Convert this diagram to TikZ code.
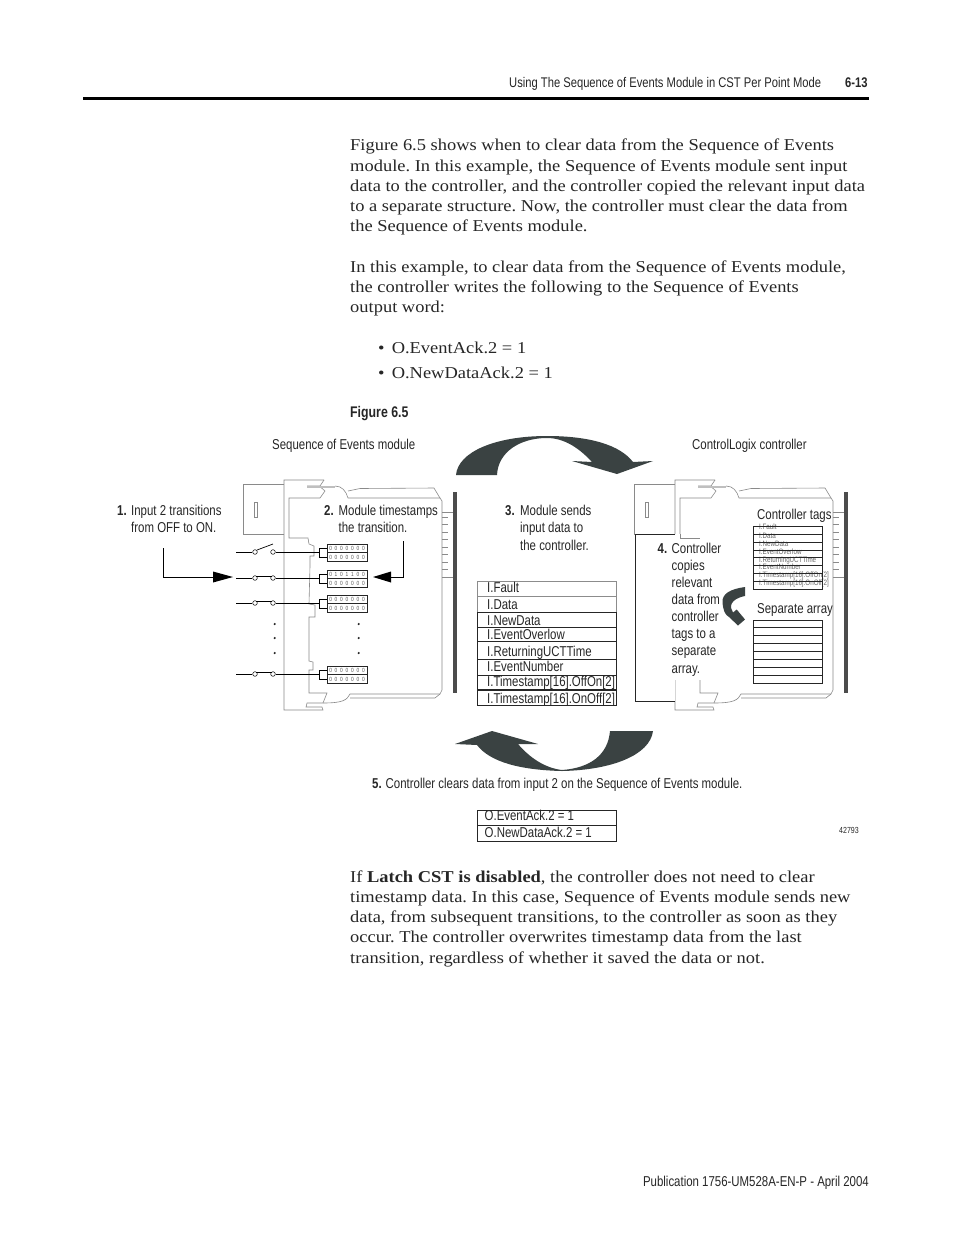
\documentclass[tikz,border=0pt]{standalone}
\usepackage{fontspec}
\setmainfont[FakeStretch=1.112]{Liberation Serif}
\newfontfamily\cond[FakeStretch=0.8]{Liberation Sans}
\definecolor{modgrey}{HTML}{8A8A8A}
\definecolor{arrowdark}{HTML}{3A4242}
\newcommand\condsize[1]{\cond\fontsize{#1}{#1}\selectfont}
\frenchspacing
\tikzset{
 body/.style={anchor=base west,inner sep=0pt,font=\fontsize{16.6}{16.6}\selectfont\frenchspacing,text=black!85},
 lab/.style={anchor=base west,inner sep=0pt,font=\condsize{14.3},text=black!85},
 tiny tag/.style={anchor=base west,inner sep=0pt,font=\condsize{7.8},text=black!60},
 modline/.style={draw=modgrey,line width=.6pt},
 lightbar/.style={draw=black!25,line width=1.2pt},
 blackline/.style={draw=black!85,line width=.8pt},
 greyrow/.style={draw=black!45,line width=.7pt},
 term/.style={circle,draw=black!85,fill=white,line width=.6pt,minimum size=4.6pt,inner sep=0pt},
 digs/.style={inner sep=0pt,font=\condsize{6},text=black!65},
 cell/.style={draw=black!85,line width=.7pt,minimum width=40pt,minimum height=8.4pt,inner sep=0pt},
 bigarrow/.style={fill=arrowdark,draw=none},
 wire/.style={draw=black,line width=.7pt},
}
\newcommand\modoutline{%
 \path[modline] (243,534)--(243,484)--(284,484);
 \path[modline] (254,502) rectangle (257,517);
 \path[modline] (284,534)--(243,534);
 % outer plate and inner contour
 \path[modline] (324,480)--(284,480)--(284,710)--(323,710)--(322,707)--(306,707)--(307,703)--(323,703)--(327,693)--(309,693)--(309,670)--(313,670)--(313,662)--(309,661)--(309,617)--(315,617)--(315,605)--(309,604)--(310,566)--(310,556)--(314,556)--(314,546)--(309,544)--(308,538)--(289,538)--(289,498)--(320,498)--(325,491)--(321,487.5);
 \path[modline] (324,480)--(320,486)--(307,486);
 \path[lightbar] (307,487)--(335,487);
 \path[modline] (335,486) .. controls (342,486) and (346,491) .. (348,498)--(440,498)--(442,501)--(442,690)--(440,694)--(350,694) .. controls (347,700) and (343,703) .. (323,703);
 \path[modline] (348,491)--(360,488.5)--(434,488)--(440,498);
 \path[modline] (350,698)--(435,698)--(440,694);
 \path[modline] (442,512)--(453,512)--(453,577)--(442,577);
 \foreach \ty in {517,524,532,539,547,554,562,569} {\path[modline] (442,\ty)--(448,\ty);}
 \path[fill=black!70] (453.3,492) rectangle (456.7,693);
}
\newcommand\swrow[3]{% id, y, top digits
 \coordinate (w#1) at (236,#2);
 \node[term] (sa#1) at (255,#2) {};
 \node[term] (sb#1) at (273,#2) {};
 \node[cell] (up#1) at (347,#2-3.5) {};
 \node[cell] (lo#1) at (347,#2+5) {};
 \node[digs] (dua#1) at (up#1.center) {\spaceskip=2.8pt\relax #3};
 \node[digs] (dlo#1) at (lo#1.center) {\spaceskip=2.8pt\relax 0 0 0 0 0 0 0};
 \draw[wire] (w#1) -- (sa#1);
 \draw[wire] (sb#1) -- ++(46,0) coordinate (j#1);
 \draw[wire,line width=.5pt] (j#1) -- ++(0,-4) -- ++(8,0);
 \draw[wire,line width=.5pt] (j#1) -- ++(0,5) -- ++(8,0);
}
\begin{document}
\begin{tikzpicture}[x=1pt,y=-1pt]
\useasboundingbox (0,0) rectangle (954,1235);
\fill[white] (0,0) rectangle (954,1235);
% header
\node[lab,font=\condsize{14}] (hdr) at (509,87.5) {Using The Sequence of Events Module in CST Per Point Mode};
\node[lab,font=\condsize{14}\bfseries] (pg) at (845,87.5) {6-13};
\path[fill=black] (83,97) rectangle (869,99.6);
% body
\node[body] (p1) at (350,150.5) {Figure 6.5 shows when to clear data from the Sequence of Events};
\node[body] (p2) at (350,171) {module. In this example, the Sequence of Events module sent input};
\node[body] (p3) at (350,191) {data to the controller, and the controller copied the relevant input data};
\node[body] (p4) at (350,211.5) {to a separate structure. Now, the controller must clear the data from};
\node[body] (p5) at (350,231.5) {the Sequence of Events module.};
\node[body] (p6) at (350,272) {In this example, to clear data from the Sequence of Events module,};
\node[body] (p7) at (350,292.5) {the controller writes the following to the Sequence of Events};
\node[body] (p8) at (350,312.5) {output word:};
\node[body] (b1) at (378,353) {•\hspace{2.5pt} O.EventAck.2 = 1};
\node[body] (b2) at (378,378) {•\hspace{2.5pt} O.NewDataAck.2 = 1};
\node[lab,font=\condsize{15.4}\bfseries] (fig) at (350,417) {Figure 6.5};
% figure titles
\node[lab] (tseq) at (272,449) {Sequence of Events module};
\node[lab] (tcl) at (692,449) {ControlLogix controller};
% big arrows
\path[bigarrow] (456,475) .. controls (458,452) and (495,436) .. (547,436) .. controls (590,436) and (620,445) .. (633,462) -- (653,461) -- (617,474) -- (572,461) -- (592,462) .. controls (580,449) and (565,438) .. (547,438) .. controls (520,438) and (498,452) .. (497,475) -- cycle;
\path[bigarrow] (653,731) .. controls (650,755) and (612,770) .. (562,771) .. controls (520,770) and (490,762) .. (477,745) -- (455,744) -- (492,731) -- (538,744) -- (518,744) .. controls (530,758) and (545,768) .. (562,770) .. controls (590,768) and (608,755) .. (610,731) -- cycle;
% left module
\modoutline
\swrow{1}{552}{0 0 0 0 0 0 0}
\swrow{2}{578}{0 1 0 1 1 0 0}
\swrow{3}{603}{0 0 0 0 0 0 0}
\swrow{4}{674}{0 0 0 0 0 0 0}
\draw[wire] (sa1) ++(2,-2) -- (273,544);
\draw[wire] (sa2) ++(1,-2) -- ([shift={(-1,-2)}]sb2.center);
\draw[wire] (sa3) ++(1,-2) -- ([shift={(-1,-2)}]sb3.center);
\draw[wire] (sa4) ++(1,-2) -- ([shift={(-1,-2)}]sb4.center);
\foreach \dx in {274.7,358.7} \foreach \dy in {624,638,653} {\fill[black!85] (\dx,\dy) circle (1.2pt);}
\node[lab] (n1a) at (117,515) {\bfseries 1.};
\node[lab] (n1b) at (131,515) {Input 2 transitions};
\node[lab] (n1c) at (131,532.5) {from OFF to ON.};
\node[lab] (n2a) at (324,515) {\bfseries 2.};
\node[lab] (n2b) at (338.5,515) {Module timestamps};
\node[lab] (n2c) at (338.5,532.5) {the transition.};
\coordinate (ar1) at (163,548);
\coordinate (ar1e) at (233,577);
\draw[wire,line width=.9pt] (ar1) |- (214,577);
\fill[black] (233,577) -- (213,571.5) -- (213,582.5) -- cycle;
\coordinate (ar2) at (403,541);
\draw[wire,line width=.9pt] (ar2) |- (390,577);
\fill[black] (373,577) -- (391,571.5) -- (391,582.5) -- cycle;
% text 3
\node[lab] (n3a) at (505,515) {\bfseries 3.};
\node[lab] (n3b) at (520,515) {Module sends};
\node[lab] (n3c) at (520,532.5) {input data to};
\node[lab] (n3d) at (520,550.5) {the controller.};
% middle table
\path[greyrow] (477.3,581) rectangle (616,612);
\path[greyrow] (477.3,596) -- (616,596);
\path[blackline] (477.3,612.5) rectangle (616.5,705.7);
\foreach \ly/\lw in {627.3/1.4,641.7/.8,659.3/.8,675/.8,690/1.4} {\draw[black!85,line width=\lw pt] (477.3,\ly) -- (616.5,\ly);}
\node[lab] (t1) at (487,592) {I.Fault};
\node[lab] (t2) at (487,609) {I.Data};
\node[lab] (t3) at (487,625) {I.NewData};
\node[lab] (t4) at (487,639) {I.EventOverlow};
\node[lab] (t5) at (487,656) {I.ReturningUCTTime};
\node[lab] (t6) at (487,671) {I.EventNumber};
\node[lab] (t7) at (487,686) {I.Timestamp[16].OffOn[2]};
\node[lab] (t8) at (487,703) {I.Timestamp[16].OnOff[2]};
% right module
\begin{scope}[shift={(391,0)}]
\modoutline
\end{scope}
\fill[white] (635.4,534) rectangle (725,680);
\fill[white] (635.4,680) rectangle (674.5,701);
\path[modline] (680,534)--(680,538)--(700,538);
\path[blackline] (675,534)--(635,534)--(635,701)--(675,701);
\node[lab] (n4a) at (657.5,553.5) {\bfseries 4.};
\node[lab] (n4b) at (671.5,553.5) {Controller};
\node[lab] (n4c) at (671.5,570.5) {copies};
\node[lab] (n4d) at (671.5,587.5) {relevant};
\node[lab] (n4e) at (671.5,604.5) {data from};
\node[lab] (n4f) at (671.5,621.5) {controller};
\node[lab] (n4g) at (671.5,638.5) {tags to a};
\node[lab] (n4h) at (671.5,655.5) {separate};
\node[lab] (n4i) at (671.5,673.5) {array.};
\path[bigarrow] (745,587) .. controls (730,589) and (722,594) .. (722.5,602) .. controls (723,610) and (725,615) .. (729,617) -- (738,625.5) -- (745,619.5) -- (736.7,609.5) -- (733,612.5) .. controls (729,607) and (730,599) .. (745,596) -- cycle;
\node[lab] (ct) at (757,519) {Controller tags};
\node[lab] (sarr) at (757,613) {Separate array};
\node[tiny tag] (c1) at (759,529.5) {I.Fault};
\node[tiny tag] (c2) at (759,538.5) {I.Data};
\node[tiny tag] (c3) at (759,546) {I.NewData};
\node[tiny tag] (c4) at (759,554.5) {I.EventOverlow};
\node[tiny tag] (c5) at (759,562) {I.ReturningUCTTime};
\node[tiny tag] (c6) at (759,569.5) {I.EventNumber};
\node[tiny tag] (c7) at (759,577.5) {I.Timestamp[16].OffOn[2]};
\node[tiny tag] (c8) at (759,585.5) {I.Timestamp[16].OnOff[2]};
\path[blackline] (753.3,526) rectangle (822.3,589.3);
\foreach \ly/\lw in {534/.7,542.5/.7,550.3/.7,557.7/1.3,565.7/1.3,573/.7,581/.7} {\draw[black!85,line width=\lw pt] (753.3,\ly) -- (822.3,\ly);}
\path[blackline] (753.3,620.3) rectangle (822.3,683.3);
\foreach \ly/\lw in {627.7/1.3,635.7/.7,643.3/.7,651.7/.7,659.3/.7,667.3/.7,675.7/.7} {\draw[black!85,line width=\lw pt] (753.3,\ly) -- (822.3,\ly);}
% step 5
\node[lab] (n5a) at (372,788) {\bfseries 5.};
\node[lab] (n5b) at (385.5,788) {Controller clears data from input 2 on the Sequence of Events module.};
\path[blackline] (477.3,810.7) rectangle (616.3,841.7);
\draw[black!85,line width=1.4pt] (477.3,825.7) -- (616.3,825.7);
\node[lab] (o1) at (484.5,820) {O.EventAck.2 = 1};
\node[lab] (o2) at (484.5,837) {O.NewDataAck.2 = 1};
\node[lab,font=\condsize{8.8}] (num) at (839,833.5) {42793};
% body lower
\node[body] (q1) at (350,882.5) {If \textbf{Latch CST is disabled}, the controller does not need to clear};
\node[body] (q2) at (350,902.5) {timestamp data. In this case, Sequence of Events module sends new};
\node[body] (q3) at (350,922.5) {data, from subsequent transitions, to the controller as soon as they};
\node[body] (q4) at (350,942.5) {occur. The controller overwrites timestamp data from the last};
\node[body] (q5) at (350,963) {transition, regardless of whether it saved the data or not.};
\node[lab,anchor=base east] (ft) at (869,1186.5) {Publication 1756-UM528A-EN-P - April 2004};
\end{tikzpicture}
\end{document}
